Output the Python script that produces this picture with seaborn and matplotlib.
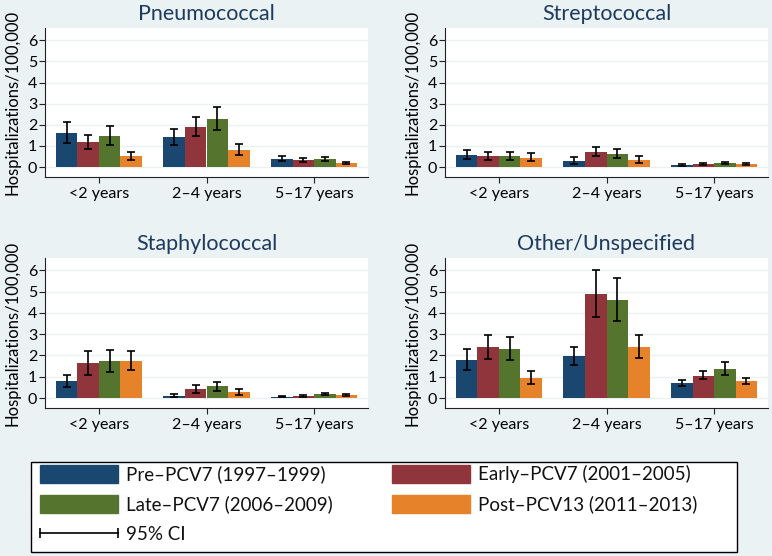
import numpy as np
import pandas as pd
import matplotlib
matplotlib.use('Agg')
import matplotlib.pyplot as plt
import seaborn as sns
from matplotlib.patches import Patch, Rectangle
from matplotlib.lines import Line2D
from matplotlib.legend_handler import HandlerLine2D

# ────────────────────────────────────────────────
# DATA  (rows = age group, columns = period)
# ────────────────────────────────────────────────
ages = ['<2 years', '2–4 years', '5–17 years']
periods = ['Pre–PCV7 (1997–1999)', 'Early–PCV7 (2001–2005)',
           'Late–PCV7 (2006–2009)', 'Post–PCV13 (2011–2013)']
panel_titles = ['Pneumococcal', 'Streptococcal', 'Staphylococcal', 'Other/Unspecified']

pneumo_rate = [[1.63, 1.17, 1.48, 0.52], [1.40, 1.88, 2.28, 0.82], [0.40, 0.33, 0.37, 0.20]]
pneumo_lo   = [[1.15, 0.85, 1.05, 0.33], [1.03, 1.45, 1.75, 0.58], [0.30, 0.25, 0.28, 0.15]]
pneumo_hi   = [[2.12, 1.50, 1.92, 0.73], [1.80, 2.37, 2.82, 1.08], [0.50, 0.42, 0.46, 0.26]]

strep_rate = [[0.58, 0.50, 0.53, 0.45], [0.30, 0.72, 0.64, 0.35], [0.10, 0.16, 0.19, 0.15]]
strep_lo   = [[0.38, 0.32, 0.34, 0.27], [0.15, 0.52, 0.43, 0.20], [0.07, 0.12, 0.14, 0.11]]
strep_hi   = [[0.83, 0.70, 0.73, 0.65], [0.47, 0.94, 0.87, 0.52], [0.14, 0.20, 0.24, 0.19]]

staph_rate = [[0.78, 1.63, 1.73, 1.76], [0.10, 0.40, 0.55, 0.28], [0.05, 0.10, 0.19, 0.13]]
staph_lo   = [[0.50, 1.10, 1.22, 1.33], [0.03, 0.22, 0.35, 0.15], [0.03, 0.06, 0.13, 0.09]]
staph_hi   = [[1.08, 2.20, 2.27, 2.20], [0.18, 0.60, 0.75, 0.43], [0.08, 0.13, 0.24, 0.18]]

other_rate = [[1.80, 2.40, 2.30, 0.95], [1.97, 4.90, 4.60, 2.40], [0.70, 1.05, 1.37, 0.78]]
other_lo   = [[1.32, 1.85, 1.77, 0.67], [1.55, 3.80, 3.60, 1.88], [0.57, 0.87, 1.10, 0.64]]
other_hi   = [[2.30, 2.95, 2.85, 1.25], [2.42, 6.00, 5.62, 2.95], [0.85, 1.27, 1.67, 0.95]]

# ────────────────────────────────────────────────
# STYLE
# ────────────────────────────────────────────────
BG = '#eaf2f3'
TITLE_COLOR = '#1e3a5f'
colors = ['#1a476f', '#90353b', '#55752f', '#e5822a']

plt.rcParams['font.family'] = ['Lato', 'DejaVu Sans']
plt.rcParams['text.color'] = '#111111'

W, H = 772, 556
fig = plt.figure(figsize=(W / 100, H / 100), dpi=100, facecolor=BG)

# axes boxes in pixels: left, top, right, bottom
boxes = [(45, 28, 368, 177), (445, 28, 768, 177),
         (45, 258, 368, 408), (445, 258, 768, 408)]
panel_data = [(pneumo_rate, pneumo_lo, pneumo_hi),
              (strep_rate, strep_lo, strep_hi),
              (staph_rate, staph_lo, staph_hi),
              (other_rate, other_lo, other_hi)]

for (l, t, r, b), title, (rate, lo, hi) in zip(boxes, panel_titles, panel_data):
    ax = fig.add_axes([l / W, 1 - b / H, (r - l) / W, (b - t) / H])
    ax.set_facecolor('white')

    rows = []
    for i, age in enumerate(ages):
        for j, per in enumerate(periods):
            rows.append({'age': age, 'period': per, 'rate': rate[i][j],
                         'lo': lo[i][j], 'hi': hi[i][j]})
    df = pd.DataFrame(rows)

    ax.set_axisbelow(True)
    ax.yaxis.grid(True, color=BG, lw=1.0)
    sns.barplot(data=df, x='age', y='rate', hue='period', order=ages,
                hue_order=periods, palette=colors, saturation=1, width=0.8,
                errorbar=None, linewidth=0, legend=False, ax=ax)

    # 95% CI whiskers at bar centres
    bar_groups = list(ax.containers)
    for j, cont in enumerate(bar_groups):
        for i, bar in enumerate(cont.patches):
            xc = bar.get_x() + bar.get_width() / 2
            y = rate[i][j]
            ax.errorbar(xc, y, yerr=[[y - lo[i][j]], [hi[i][j] - y]],
                        fmt='none', ecolor='black', elinewidth=1.2,
                        capsize=3, capthick=1.2, zorder=5)

    ax.set_xlim(-0.5, 2.5)
    ax.set_ylim(-0.47, 6.58)
    ax.set_yticks(range(0, 7))
    ax.set_title(title, fontsize=15.5, color=TITLE_COLOR, pad=5.5)
    ax.set_xlabel('')
    ax.set_ylabel('Hospitalizations/100,000', fontsize=12)
    ax.yaxis.set_label_coords(-0.075, 0.5)
    ax.tick_params(axis='both', labelsize=11.5, length=4.5, width=0.8,
                   color='#222222')
    ax.tick_params(axis='y', pad=1)
    ax.tick_params(axis='x', pad=3)
    for s in ['top', 'right']:
        ax.spines[s].set_visible(False)
    for s in ['left', 'bottom']:
        ax.spines[s].set_color('#222222')
        ax.spines[s].set_linewidth(0.8)

# ────────────────────────────────────────────────
# LEGEND (framed box across the bottom)
# ────────────────────────────────────────────────
fig.patches.append(Rectangle((31 / W, 1 - 552 / H), 706 / W, 90 / H,
                             transform=fig.transFigure, facecolor='white',
                             edgecolor='black', linewidth=1.0, zorder=0))

ci_handle = Line2D([0], [0], color='black', lw=1.2, marker='|',
                   markersize=7, markeredgewidth=1.2)
leg_kw = dict(loc='upper left', frameon=False, fontsize=13.5, borderpad=0,
              borderaxespad=0, handlelength=4.15, handleheight=1.07,
              handletextpad=0.45, labelspacing=0.63, numpoints=2,
              handler_map={Line2D: HandlerLine2D(marker_pad=0, numpoints=2)})

fig.legend([Patch(color=colors[0]), Patch(color=colors[2]), ci_handle],
           [periods[0], periods[2], '95% CI'],
           bbox_to_anchor=(40 / W, 1 - 465 / H), **leg_kw)
fig.legend([Patch(color=colors[1]), Patch(color=colors[3])],
           [periods[1], periods[3]],
           bbox_to_anchor=(392 / W, 1 - 465 / H), **leg_kw)

plt.savefig('out.png', dpi=100, facecolor=BG)
